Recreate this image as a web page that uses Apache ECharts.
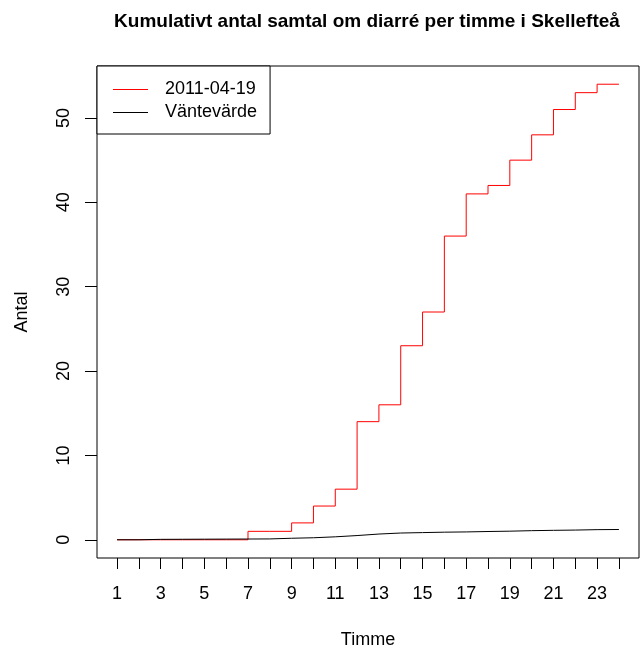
<!DOCTYPE html>
<html>
<head>
<meta charset="utf-8">
<script src="https://cdn.jsdelivr.net/npm/echarts@6/dist/echarts.min.js"></script>
<style>html,body{margin:0;padding:0;background:#fff}#c{width:640px;height:654px}</style>
</head>
<body>
<div id="c"></div>
<script>
var hours = [1,2,3,4,5,6,7,8,9,10,11,12,13,14,15,16,17,18,19,20,21,22,23,24];
var observed = [0,0,0,0,0,0,1,1,2,4,6,14,16,23,27,36,41,42,45,48,51,53,54,54];
var expected = [0,0.05,0.06,0.07,0.08,0.09,0.1,0.18,0.24,0.35,0.5,0.68,0.8,0.85,0.9,0.93,0.98,1.02,1.08,1.12,1.15,1.2,1.22,1.24];
var xTicks = hours;
var xLabels = [1,3,5,7,9,11,13,15,17,19,21,23];
var yTicks = [0,10,20,30,40,50];
var seriesNames = ['2011-04-19','Väntevärde'];
var titleText = 'Kumulativt antal samtal om diarré per timme i Skellefteå';

var FONT = '"Liberation Sans", Arial, sans-serif';
function pairs(ys){ return hours.map(function(h,i){ return [h, ys[i]]; }); }

var chart = echarts.init(document.getElementById('c'), null, {renderer:'canvas'});
chart.setOption({
  animation: false,
  backgroundColor: '#fff',
  title: {
    text: titleText, left: 362, top: 7, textAlign: 'center',
    textStyle: {fontFamily: FONT, fontSize: 19, fontWeight: 'bold', color: '#000'}
  },
  grid: {left: 97, width: 542, top: 66, height: 500.5, show: true, borderColor: '#000', borderWidth: 1, backgroundColor: 'transparent'},
  legend: {
    left: 97, top: 66, orient: 'vertical',
    data: seriesNames,
    icon: 'rect',
    padding: [12, 13, 10, 16],
    itemWidth: 35, itemHeight: 1, itemGap: 0,
    borderColor: '#000', borderWidth: 1, backgroundColor: '#fff',
    textStyle: {fontFamily: FONT, fontSize: 18, color: '#000', lineHeight: 23, padding: [0,0,0,12]}
  },
  xAxis: {
    type: 'value', min: 0.08, max: 24.92,
    name: 'Timme', nameLocation: 'middle', nameGap: 73,
    nameTextStyle: {fontFamily: FONT, fontSize: 18, color: '#000'},
    axisLine: {show: false, onZero: false},
    axisTick: {show: true, length: 11, customValues: xTicks, lineStyle: {color: '#000', width: 1}},
    axisLabel: {customValues: xLabels, margin: 27, fontFamily: FONT, fontSize: 18, color: '#000'},
    splitLine: {show: false}
  },
  yAxis: {
    type: 'value', min: -2.16, max: 56.16,
    name: 'Antal', nameLocation: 'middle', nameGap: 66, nameRotate: 90,
    nameTextStyle: {fontFamily: FONT, fontSize: 18, color: '#000'},
    axisLine: {show: false, onZero: false},
    axisTick: {show: true, length: 12, customValues: yTicks, lineStyle: {color: '#000', width: 1}},
    axisLabel: {customValues: yTicks, rotate: 90, margin: 24, fontFamily: FONT, fontSize: 18, color: '#000'},
    splitLine: {show: false}
  },
  series: [
    {name: seriesNames[0], type: 'line', step: 'end', data: pairs(observed), symbol: 'none', showSymbol: false,
     lineStyle: {color: '#ff0000', width: 1}, itemStyle: {color: '#ff0000'}},
    {name: seriesNames[1], type: 'line', step: 'end', data: pairs(expected), symbol: 'none', showSymbol: false,
     lineStyle: {color: '#000000', width: 1}, itemStyle: {color: '#000000'}}
  ]
});
</script>
</body>
</html>
